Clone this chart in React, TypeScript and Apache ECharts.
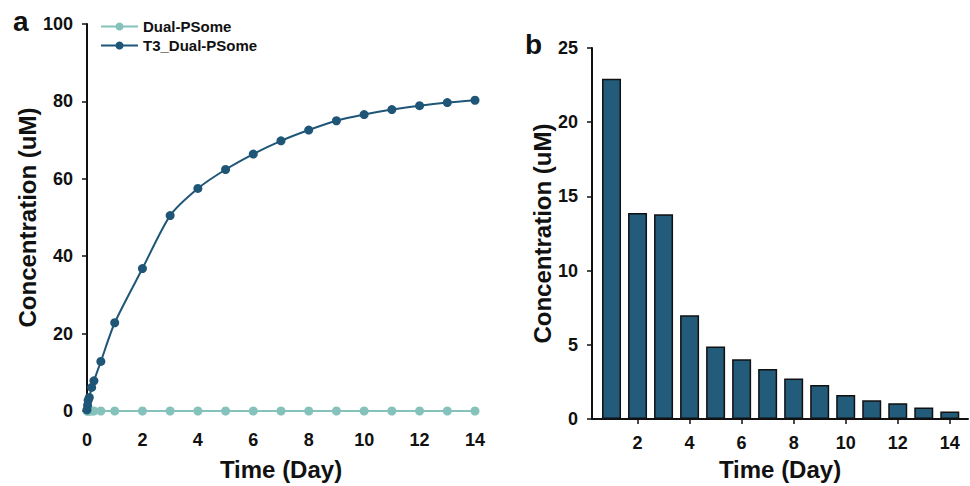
import React, { useEffect, useRef } from "react";
import * as echarts from "echarts";

const timesA = [0, 0.021, 0.042, 0.083, 0.167, 0.25, 0.5, 1, 2, 3, 4, 5, 6, 7, 8, 9, 10, 11, 12, 13, 14];
const t3Values = [0.3, 1.5, 2.8, 3.5, 6.1, 7.8, 12.8, 22.8, 36.8, 50.5, 57.5, 62.4, 66.4, 69.8, 72.6, 75.0, 76.6, 77.9, 78.9, 79.7, 80.3];
const dualValues = [0, 0, 0, 0, 0, 0, 0, 0, 0, 0, 0, 0, 0, 0, 0, 0, 0, 0, 0, 0, 0];

const daysB = [1, 2, 3, 4, 5, 6, 7, 8, 9, 10, 11, 12, 13, 14];
const barValues = [22.93, 13.89, 13.8, 7.0, 4.89, 4.04, 3.38, 2.73, 2.29, 1.62, 1.27, 1.07, 0.78, 0.51];
const xTicksB = [2, 4, 6, 8, 10, 12, 14];

const FONT = "'Liberation Sans', Arial, sans-serif";
const DARK = "#1f5677";
const LIGHT = "#86c2bc";
const BAR = "#235b7b";

export default function App() {
  const ref = useRef<HTMLDivElement>(null);
  useEffect(() => {
    const chart = echarts.init(ref.current!, null, { renderer: "svg" });
    const tickLabel = { color: "#111", fontFamily: FONT, fontWeight: "bold" as const, fontSize: 18 };
    const nameStyle = { color: "#111", fontFamily: FONT, fontWeight: "bold" as const, fontSize: 24 };
    chart.setOption({
      animation: false,
      backgroundColor: "#fff",
      title: [
        { text: "a", left: 8, top: 2, textStyle: { fontFamily: FONT, fontWeight: "bold", fontSize: 28, color: "#111" } },
        { text: "b", left: 520, top: 25, textStyle: { fontFamily: FONT, fontWeight: "bold", fontSize: 28, color: "#111" } },
      ],
      legend: {
        orient: "vertical",
        left: 95,
        top: 14,
        itemWidth: 37,
        itemHeight: 10,
        itemGap: 4,
        data: ["Dual-PSome", "T3_Dual-PSome"],
        textStyle: { fontFamily: FONT, fontWeight: "bold", fontSize: 15, color: "#111" },
      },
      grid: [
        { left: 87, top: 24, width: 388, height: 387 },
        { left: 592, top: 48, width: 376, height: 376 },
      ],
      xAxis: [
        {
          gridIndex: 0,
          type: "value",
          min: 0,
          max: 14,
          interval: 2,
          offset: 4,
          splitLine: { show: false },
          axisLine: { show: false },
          axisTick: { show: true, length: 4, lineStyle: { color: "#111", width: 1.5 } },
          axisLabel: { ...tickLabel, margin: 16 },
          name: "Time (Day)",
          nameLocation: "middle",
          nameGap: 42,
          nameTextStyle: nameStyle,
        },
        {
          gridIndex: 1,
          type: "value",
          min: 0.25,
          max: 14.7,
          splitLine: { show: false },
          axisLine: { show: true, lineStyle: { color: "#111", width: 2 } },
          axisTick: { show: true, length: 5, customValues: xTicksB, lineStyle: { color: "#111", width: 1.5 } },
          axisLabel: { ...tickLabel, margin: 15, customValues: xTicksB },
          name: "Time (Day)",
          nameLocation: "middle",
          nameGap: 26,
          nameTextStyle: nameStyle,
        },
      ],
      yAxis: [
        {
          gridIndex: 0,
          type: "value",
          min: 0,
          max: 100,
          interval: 20,
          splitLine: { show: false },
          axisLine: { show: true, lineStyle: { color: "#111", width: 2 } },
          axisTick: { show: true, length: 5, lineStyle: { color: "#111", width: 1.5 } },
          axisLabel: { ...tickLabel, margin: 14 },
          name: "Concentration (uM)",
          nameLocation: "middle",
          nameGap: 40,
          nameTextStyle: nameStyle,
        },
        {
          gridIndex: 1,
          type: "value",
          min: 0,
          max: 25,
          interval: 5,
          splitLine: { show: false },
          axisLine: { show: true, lineStyle: { color: "#111", width: 2 } },
          axisTick: { show: true, length: 5, lineStyle: { color: "#111", width: 1.5 } },
          axisLabel: { ...tickLabel, margin: 14 },
          name: "Concentration (uM)",
          nameLocation: "middle",
          nameGap: 35,
          nameTextStyle: nameStyle,
        },
      ],
      series: [
        {
          name: "Dual-PSome",
          type: "line",
          xAxisIndex: 0,
          yAxisIndex: 0,
          data: timesA.map((t, i) => [t, dualValues[i]]),
          symbol: "circle",
          symbolSize: 9,
          itemStyle: { color: LIGHT },
          lineStyle: { color: LIGHT, width: 2 },
          z: 2,
        },
        {
          name: "T3_Dual-PSome",
          type: "line",
          xAxisIndex: 0,
          yAxisIndex: 0,
          data: timesA.map((t, i) => [t, t3Values[i]]),
          symbol: "circle",
          symbolSize: 9,
          smooth: 0.25,
          itemStyle: { color: DARK },
          lineStyle: { color: DARK, width: 2 },
          z: 3,
        },
        {
          name: "bars",
          type: "bar",
          xAxisIndex: 1,
          yAxisIndex: 1,
          data: daysB.map((d, i) => [d, barValues[i]]),
          barWidth: 19,
          itemStyle: { color: BAR, borderColor: "#111", borderWidth: 1.5 },
        },
      ],
    });
    return () => chart.dispose();
  }, []);
  return <div ref={ref} style={{ position: "fixed", left: 0, top: 0, width: 970, height: 486 }} />;
}
